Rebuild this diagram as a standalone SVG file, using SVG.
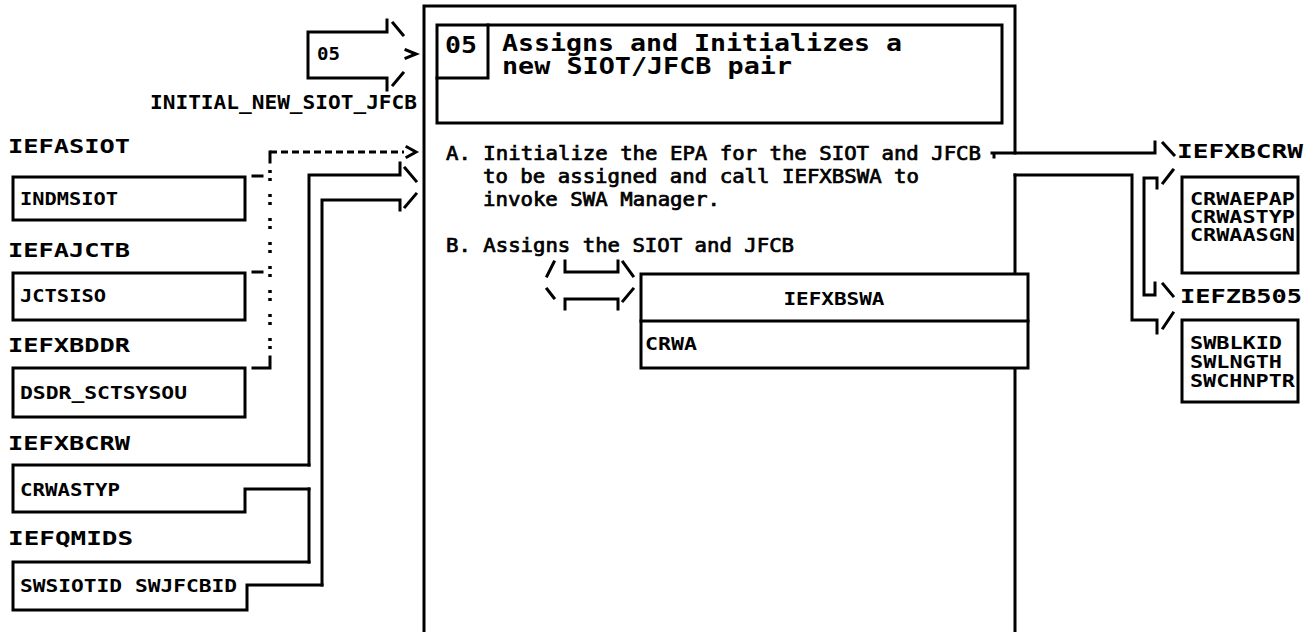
<svg xmlns="http://www.w3.org/2000/svg" width="1315" height="632" viewBox="0 0 1315 632">
<style>
.ln{fill:none;stroke:#000;stroke-width:3;stroke-linecap:square;stroke-linejoin:miter}
.bx{fill:#fff;stroke:#000;stroke-width:3}
.dash{fill:none;stroke:#000;stroke-width:3;stroke-dasharray:7 4}
.dot{fill:none;stroke:#000;stroke-width:3.5;stroke-dasharray:3 5 3 13}
text{font-family:"DejaVu Sans Mono","Liberation Mono",monospace;font-weight:bold;fill:#000}
.lbl{font-size:20px}
.itm{font-size:17px}
.body{font-size:19px;font-weight:normal;stroke:#000;stroke-width:0.7}
.title{font-size:23px}
</style>
<rect width="1315" height="632" fill="#fff"/>

<g id="main">
  <path class="ln" d="M424,632 V6 H1015 V153 M1015,175 V274 M1015,368 V632"/>
  <rect class="ln" x="437" y="25" width="565" height="98"/>
  <path class="ln" d="M437,78 H488 V25"/>
  <text class="title" x="445" y="53" textLength="32" lengthAdjust="spacingAndGlyphs">05</text>
  <text class="title" x="502" y="51" textLength="400" lengthAdjust="spacingAndGlyphs">Assigns and Initializes a</text>
  <text class="title" x="502" y="74" textLength="290" lengthAdjust="spacingAndGlyphs">new SIOT/JFCB pair</text>
  <text class="body" x="446" y="160" textLength="535" lengthAdjust="spacingAndGlyphs">A. Initialize the EPA for the SIOT and JFCB</text>
  <text class="body" x="483" y="183" textLength="436" lengthAdjust="spacingAndGlyphs">to be assigned and call IEFXBSWA to</text>
  <text class="body" x="483" y="206" textLength="237" lengthAdjust="spacingAndGlyphs">invoke SWA Manager.</text>
  <text class="body" x="446" y="252" textLength="348" lengthAdjust="spacingAndGlyphs">B. Assigns the SIOT and JFCB</text>
</g>

<g id="iefxbswa">
  <rect class="bx" x="641" y="274" width="387" height="94"/>
  <path class="ln" d="M641,321 H1028"/>
  <text class="itm" x="834" y="305" text-anchor="middle" textLength="101" lengthAdjust="spacingAndGlyphs">IEFXBSWA</text>
  <text class="itm" x="645" y="350" textLength="52" lengthAdjust="spacingAndGlyphs">CRWA</text>
</g>

<g id="in05">
  <text class="itm" x="317" y="60" textLength="23" lengthAdjust="spacingAndGlyphs">05</text>
  <text class="lbl" x="150" y="109" textLength="267" lengthAdjust="spacingAndGlyphs">INITIAL_NEW_SIOT_JFCB</text>
</g>

<g id="iefasiot">
  <text class="lbl" x="8" y="153" textLength="122" lengthAdjust="spacingAndGlyphs">IEFASIOT</text>
  <rect class="ln" x="13" y="177" width="232" height="43"/>
  <text class="itm" x="20" y="205" textLength="98" lengthAdjust="spacingAndGlyphs">INDMSIOT</text>
</g>
<g id="iefajctb">
  <text class="lbl" x="8" y="257" textLength="122" lengthAdjust="spacingAndGlyphs">IEFAJCTB</text>
  <rect class="ln" x="13" y="273" width="232" height="47"/>
  <text class="itm" x="20" y="302" textLength="86" lengthAdjust="spacingAndGlyphs">JCTSISO</text>
</g>
<g id="iefxbddr">
  <text class="lbl" x="8" y="352" textLength="122" lengthAdjust="spacingAndGlyphs">IEFXBDDR</text>
  <rect class="ln" x="13" y="368" width="232" height="49"/>
  <text class="itm" x="20" y="399" textLength="167" lengthAdjust="spacingAndGlyphs">DSDR_SCTSYSOU</text>
</g>
<g id="iefxbcrw-left">
  <text class="lbl" x="8" y="450" textLength="122" lengthAdjust="spacingAndGlyphs">IEFXBCRW</text>
  <path class="ln" d="M309,465 H13 V512 H245 V489 H309"/>
  <text class="itm" x="20" y="496" textLength="100" lengthAdjust="spacingAndGlyphs">CRWASTYP</text>
</g>
<g id="iefqmids">
  <text class="lbl" x="8" y="545" textLength="125" lengthAdjust="spacingAndGlyphs">IEFQMIDS</text>
  <path class="ln" d="M309,562 H13 V610 H247 V585 H322"/>
  <text class="itm" x="20" y="592" textLength="217" lengthAdjust="spacingAndGlyphs">SWSIOTID SWJFCBID</text>
</g>

<g id="iefxbcrw-right">
  <text class="lbl" x="1177" y="158" textLength="126" lengthAdjust="spacingAndGlyphs">IEFXBCRW</text>
  <rect class="ln" x="1182" y="177" width="116" height="96"/>
  <text class="itm" x="1190" y="205" textLength="105" lengthAdjust="spacingAndGlyphs">CRWAEPAP</text>
  <text class="itm" x="1190" y="223" textLength="105" lengthAdjust="spacingAndGlyphs">CRWASTYP</text>
  <text class="itm" x="1190" y="241" textLength="105" lengthAdjust="spacingAndGlyphs">CRWAASGN</text>
</g>
<g id="iefzb505">
  <text class="lbl" x="1180" y="303" textLength="122" lengthAdjust="spacingAndGlyphs">IEFZB505</text>
  <rect class="ln" x="1182" y="320" width="116" height="82"/>
  <text class="itm" x="1190" y="349" textLength="92" lengthAdjust="spacingAndGlyphs">SWBLKID</text>
  <text class="itm" x="1190" y="368" textLength="92" lengthAdjust="spacingAndGlyphs">SWLNGTH</text>
  <text class="itm" x="1190" y="387" textLength="105" lengthAdjust="spacingAndGlyphs">SWCHNPTR</text>
</g>

<g id="connectors">
  <path class="ln" d="M387,20 V32 H308 V78 H387 V90"/>
  <path class="ln" d="M393,23 L403,35 M393,85 L403,73 M406,50 L416,54 L406,58"/>
  <path class="ln" d="M253,176 H262 M253,272 H262 M253,368 H270 V357"/>
  <path class="dot" d="M270,170 V352"/>
  <path class="ln" d="M270,162 V152"/>
  <path class="dash" d="M270,152 H404"/>
  <path class="ln" d="M407,147 L416,152 L407,157"/>
  <path class="ln" d="M309,465 V175 H400 V163"/>
  <path class="ln" d="M405,168 L416,181"/>
  <path class="ln" d="M309,489 V562"/>
  <path class="ln" d="M322,585 V200 H400 V210"/>
  <path class="ln" d="M405,207 L416,194"/>
  <path class="ln" d="M547,276 L554,262 M565,261 V272 H618 V261 M623,262 L633,276"/>
  <path class="ln" d="M547,289 L554,298 M565,309 V299 H618 V309 M623,301 L633,289"/>
  <path class="ln" d="M992,153 H1155 V142 M1163,143 L1174,155 M994,153 V157"/>
  <path class="ln" d="M1015,175 H1132 V320 H1157 V333 M1163,328 L1173,313"/>
  <path class="ln" d="M1157,188 V178 H1144 V295 H1155 V283 M1163,183 L1173,170 M1163,284 L1173,296"/>
</g>
</svg>
